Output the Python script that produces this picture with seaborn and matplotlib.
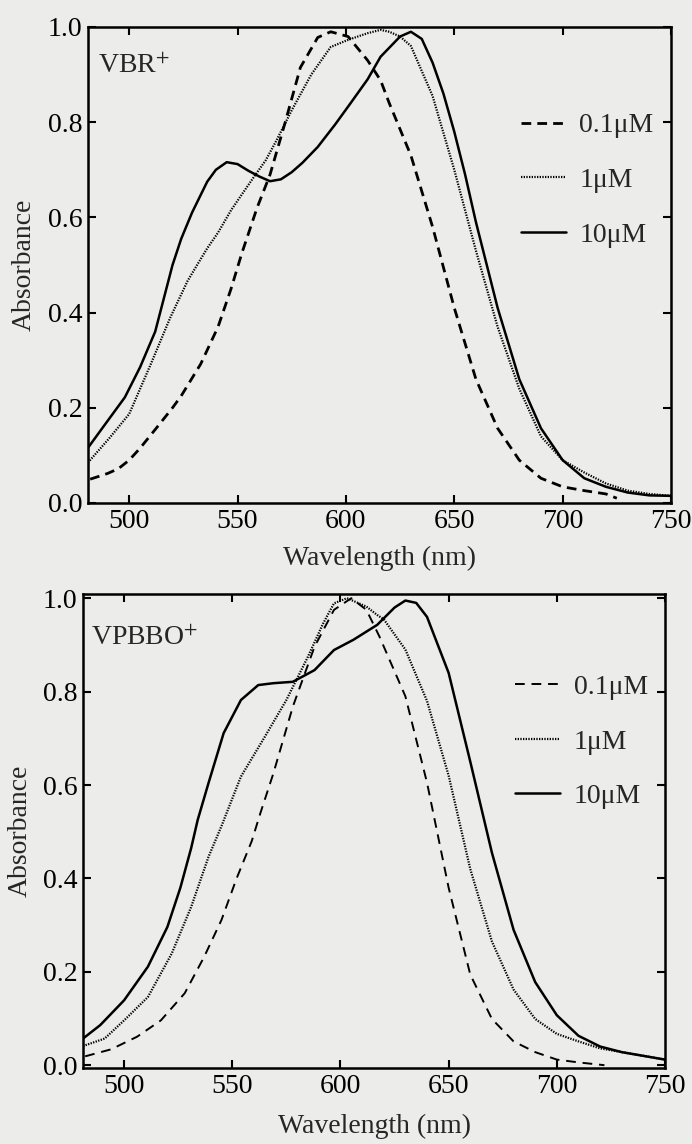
import numpy as np
import pandas as pd
import matplotlib
matplotlib.use("Agg")
import matplotlib.pyplot as plt
from matplotlib.lines import Line2D
import seaborn as sns

# ---------------- data ----------------
conc_labels = ["0.1μM", "1μM", "10μM"]
panel_titles = ["VBR$^{+}$", "VPBBO$^{+}$"]
xticks = [500, 550, 600, 650, 700, 750]
yticks = [0.0, 0.2, 0.4, 0.6, 0.8, 1.0]

# Panel 1: VBR+
vbr_wl_01 = [482, 490, 495, 500, 505, 513, 520, 524, 533, 541, 547, 552, 559, 565, 572, 579, 587, 593, 601, 610, 616, 620, 630, 640, 650, 660, 670, 680, 690, 700, 710, 720, 725]
vbr_ab_01 = [0.05, 0.062, 0.072, 0.09, 0.115, 0.16, 0.20, 0.225, 0.292, 0.37, 0.45, 0.525, 0.62, 0.69, 0.80, 0.915, 0.978, 0.99, 0.98, 0.93, 0.888, 0.84, 0.73, 0.58, 0.41, 0.26, 0.157, 0.09, 0.052, 0.034, 0.026, 0.019, 0.01]

vbr_wl_1 = [481, 491, 500, 510, 519, 527, 532, 536, 541, 547, 553, 558, 563, 568, 575, 584, 593, 601, 610, 616, 620, 625, 630, 640, 650, 660, 670, 680, 690, 700, 710, 720, 730, 740, 750]
vbr_ab_1 = [0.085, 0.137, 0.187, 0.292, 0.39, 0.467, 0.505, 0.535, 0.568, 0.615, 0.655, 0.688, 0.72, 0.762, 0.825, 0.90, 0.958, 0.973, 0.987, 0.994, 0.99, 0.98, 0.96, 0.855, 0.70, 0.53, 0.37, 0.24, 0.14, 0.09, 0.064, 0.041, 0.026, 0.019, 0.015]

vbr_wl_10 = [481, 489, 498, 505, 512, 516, 520, 524, 529, 536, 540, 545, 550, 555, 560, 565, 570, 575, 580, 587, 595, 602, 610, 616, 625, 630, 635, 640, 645, 650, 655, 660, 670, 680, 690, 700, 710, 720, 730, 740, 750]
vbr_ab_10 = [0.116, 0.166, 0.222, 0.285, 0.36, 0.43, 0.50, 0.555, 0.61, 0.675, 0.70, 0.716, 0.712, 0.698, 0.686, 0.676, 0.68, 0.695, 0.715, 0.748, 0.795, 0.839, 0.89, 0.9375, 0.98, 0.99, 0.975, 0.925, 0.86, 0.78, 0.69, 0.59, 0.41, 0.26, 0.157, 0.09, 0.052, 0.034, 0.022, 0.016, 0.015]

# Panel 2: VPBBO+
vpb_wl_01 = [482, 494, 506, 517, 528, 537, 545, 552, 559, 563, 569, 578, 588, 597, 605, 612, 618, 630, 640, 650, 660, 670, 680, 690, 700, 710, 722]
vpb_ab_01 = [0.019, 0.034, 0.061, 0.096, 0.154, 0.232, 0.311, 0.40, 0.48, 0.54, 0.625, 0.768, 0.896, 0.975, 1.0, 0.975, 0.918, 0.79, 0.605, 0.38, 0.194, 0.099, 0.051, 0.028, 0.012, 0.006, 0.0]

vpb_wl_1 = [481, 491, 500, 511, 522, 531, 539, 545, 554, 565, 575, 585, 592, 597, 603, 612, 617, 620, 630, 640, 650, 660, 670, 680, 690, 700, 710, 720, 730, 740, 750]
vpb_ab_1 = [0.041, 0.057, 0.096, 0.146, 0.239, 0.339, 0.446, 0.512, 0.618, 0.703, 0.782, 0.875, 0.946, 0.989, 1.0, 0.982, 0.964, 0.955, 0.89, 0.78, 0.62, 0.42, 0.265, 0.162, 0.099, 0.067, 0.051, 0.036, 0.028, 0.02, 0.012]

vpb_wl_10 = [481, 489, 500, 511, 520, 526, 531, 534, 539, 546, 554, 562, 569, 578, 588, 597, 606, 617, 625, 630, 635, 640, 650, 660, 670, 680, 690, 700, 710, 720, 730, 740, 750]
vpb_ab_10 = [0.057, 0.086, 0.139, 0.211, 0.296, 0.38, 0.465, 0.525, 0.604, 0.711, 0.782, 0.814, 0.818, 0.821, 0.846, 0.889, 0.911, 0.943, 0.98, 0.995, 0.99, 0.96, 0.84, 0.65, 0.455, 0.29, 0.178, 0.107, 0.063, 0.04, 0.028, 0.02, 0.012]


def make_df(wls, abss):
    frames = []
    for lab, w, a in zip(conc_labels, wls, abss):
        frames.append(pd.DataFrame({"Wavelength": w, "Absorbance": a, "conc": lab}))
    return pd.concat(frames, ignore_index=True)


df1 = make_df([vbr_wl_01, vbr_wl_1, vbr_wl_10], [vbr_ab_01, vbr_ab_1, vbr_ab_10])
df2 = make_df([vpb_wl_01, vpb_wl_1, vpb_wl_10], [vpb_ab_01, vpb_ab_1, vpb_ab_10])

# ---------------- style ----------------
sns.set_theme(style="ticks")
bg = "#ececea"
plt.rcParams["font.family"] = ["Liberation Serif", "DejaVu Serif"]
plt.rcParams["mathtext.fontset"] = "stix"
plt.rcParams["figure.facecolor"] = bg
plt.rcParams["axes.facecolor"] = bg

W, H = 692, 1144
fig = plt.figure(figsize=(W / 100, H / 100), dpi=100)

dash_maps = [{"0.1μM": (3.5, 2.2), "1μM": (0.6, 0.6), "10μM": ""},
             {"0.1μM": (5.0, 3.5), "1μM": (0.6, 0.6), "10μM": ""}]
lw_maps = [{"0.1μM": 2.0, "1μM": 1.6, "10μM": 1.8},
           {"0.1μM": 1.4, "1μM": 1.6, "10μM": 1.8}]

# axes rectangles in pixels: left, top, right, bottom
rects = [(88, 27, 671, 503), (83, 594, 665, 1068)]
ylims = [(0.0, 1.0), (-0.006, 1.009)]
title_pos = [(0.018, 0.918), (0.014, 0.906)]
legend_anchor = [(0.70, 0.872), (0.70, 0.883)]
xlabel_y = [558, 1126]
ylabel_x = [24, 20]

for i, (df, rect) in enumerate(zip([df1, df2], rects)):
    l, t, r, b = rect
    dash_map = dash_maps[i]
    lw_map = lw_maps[i]
    ax = fig.add_axes([l / W, 1 - b / H, (r - l) / W, (b - t) / H])
    sns.lineplot(data=df, x="Wavelength", y="Absorbance", style="conc",
                 dashes=dash_map, color="black", linewidth=1.8,
                 estimator=None, sort=False, ax=ax, legend=False)
    for line, lab in zip(ax.get_lines(), conc_labels):
        line.set_linewidth(lw_map[lab])
        line.set_solid_joinstyle("round")
    ax.set_xlim(481, 750)
    ax.set_ylim(*ylims[i])
    ax.set_xticks(xticks)
    ax.set_yticks(yticks)
    ax.set_xticklabels([str(v) for v in xticks])
    ax.set_yticklabels([f"{v:.1f}" for v in yticks])
    ax.tick_params(axis="both", which="major", direction="in", labelsize=20,
                   length=6, width=1.5, colors="black", pad=4,
                   top=True, right=True, left=True, bottom=True)
    for sp in ax.spines.values():
        sp.set_linewidth(1.8)
        sp.set_color("black")
    ax.set_xlabel("")
    ax.set_ylabel("")
    fig.text(ylabel_x[i] / W, 1 - (t + b) / 2 / H, "Absorbance", rotation=90,
             fontsize=20, ha="center", va="center")
    fig.text((l + r) / 2 / W, 1 - xlabel_y[i] / H, "Wavelength (nm)",
             fontsize=20, ha="center", va="center")
    ax.text(title_pos[i][0], title_pos[i][1], panel_titles[i], transform=ax.transAxes,
            fontsize=20, ha="left", va="center")
    handles = []
    for lab in conc_labels:
        d = dash_map[lab]
        h = Line2D([0], [0], color="black", linewidth=lw_map[lab],
                   linestyle=(0, d) if d else "-")
        handles.append(h)
    ax.legend(handles, conc_labels, loc="upper left",
              bbox_to_anchor=legend_anchor[i],
              frameon=False, fontsize=20, handlelength=1.6,
              handletextpad=0.5, labelspacing=1.05)

fig.savefig("out.png", dpi=100, facecolor=bg)
